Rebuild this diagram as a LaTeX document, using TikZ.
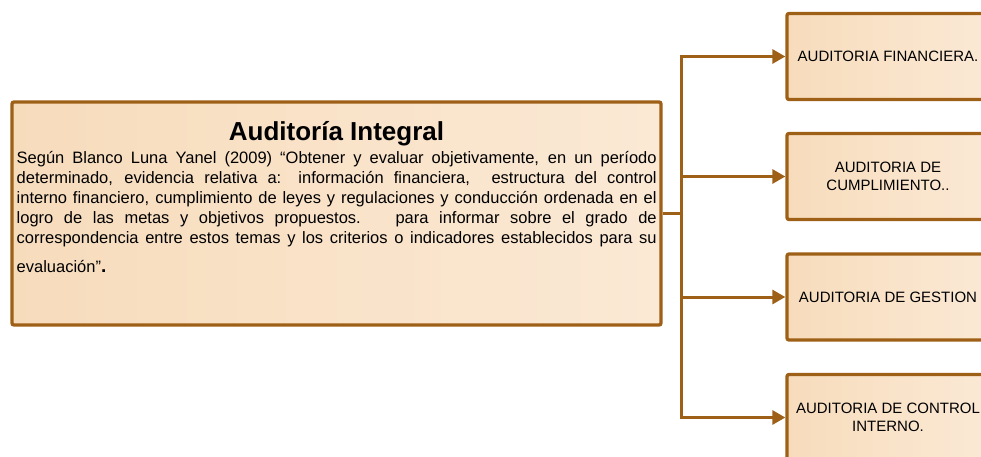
\documentclass[tikz,border=0pt]{standalone}
\usepackage{fontspec}
\setmainfont{Liberation Sans}
\usetikzlibrary{arrows.meta}
\definecolor{brn}{RGB}{158,95,22}
\definecolor{fillA}{RGB}{247,220,188}
\definecolor{fillB}{RGB}{251,233,213}
\tikzset{
  boxstyle/.style={draw=brn, line width=3.3pt, rounded corners=2pt,
    left color=fillA, right color=fillB, inner sep=0pt},
  subbox/.style={boxstyle, minimum width=202pt, minimum height=86pt,
    align=center, font=\fontsize{15pt}{18pt}\selectfont},
  conn/.style={draw=brn, line width=3pt},
  arr/.style={conn, -{Triangle[length=13pt,width=14pt]}}
}
\newcommand{\jline}[1]{\makebox[640pt][s]{#1}\\}
\begin{document}
\begin{tikzpicture}[x=1pt,y=-1pt]
\useasboundingbox (0,0) rectangle (981,457);
\clip (0,0) rectangle (981,457);
\node[boxstyle, minimum width=649pt, minimum height=223pt] (main) at (336.5,213.5) {};
\node[anchor=base, font=\fontsize{26pt}{30pt}\selectfont\bfseries, inner sep=0pt] (title) at (336.5,140.5) {Auditoría Integral};
\node[anchor=base west, inner sep=0pt, font=\fontsize{16.5pt}{20pt}\selectfont] (body) at (16.5,163.5) {%
\begin{minipage}[t]{640pt}\setlength{\parindent}{0pt}\setlength{\baselineskip}{20pt}%
\jline{Según Blanco Luna Yanel (2009) “Obtener y evaluar objetivamente, en un período}
\jline{determinado, evidencia relativa a: información financiera, \ estructura del control}
\jline{interno financiero, cumplimiento de leyes y regulaciones y conducción ordenada en el}
\jline{logro de las metas y objetivos propuestos. \ para informar sobre el grado de}
\jline{correspondencia entre estos temas y los criterios o indicadores establecidos para su}
[9pt]evaluación”{\bfseries\fontsize{19pt}{20pt}\selectfont .}
\end{minipage}};
\node[subbox] (s1) at (888,56.5) {AUDITORIA FINANCIERA.};
\node[subbox] (s2) at (888,176.5) {AUDITORIA DE\\CUMPLIMIENTO..};
\node[subbox] (s3) at (888,297) {AUDITORIA DE GESTION};
\node[subbox] (s4) at (888,417.5) {AUDITORIA DE CONTROL\\INTERNO.};
\coordinate (tr) at (681,213.5);
\draw[conn] (main.east) -- (tr);
\draw[arr] (tr) |- (s1.west);
\draw[arr] (tr) |- (s2.west);
\draw[arr] (tr) |- (s3.west);
\draw[arr] (tr) |- (s4.west);
\end{tikzpicture}
\end{document}
